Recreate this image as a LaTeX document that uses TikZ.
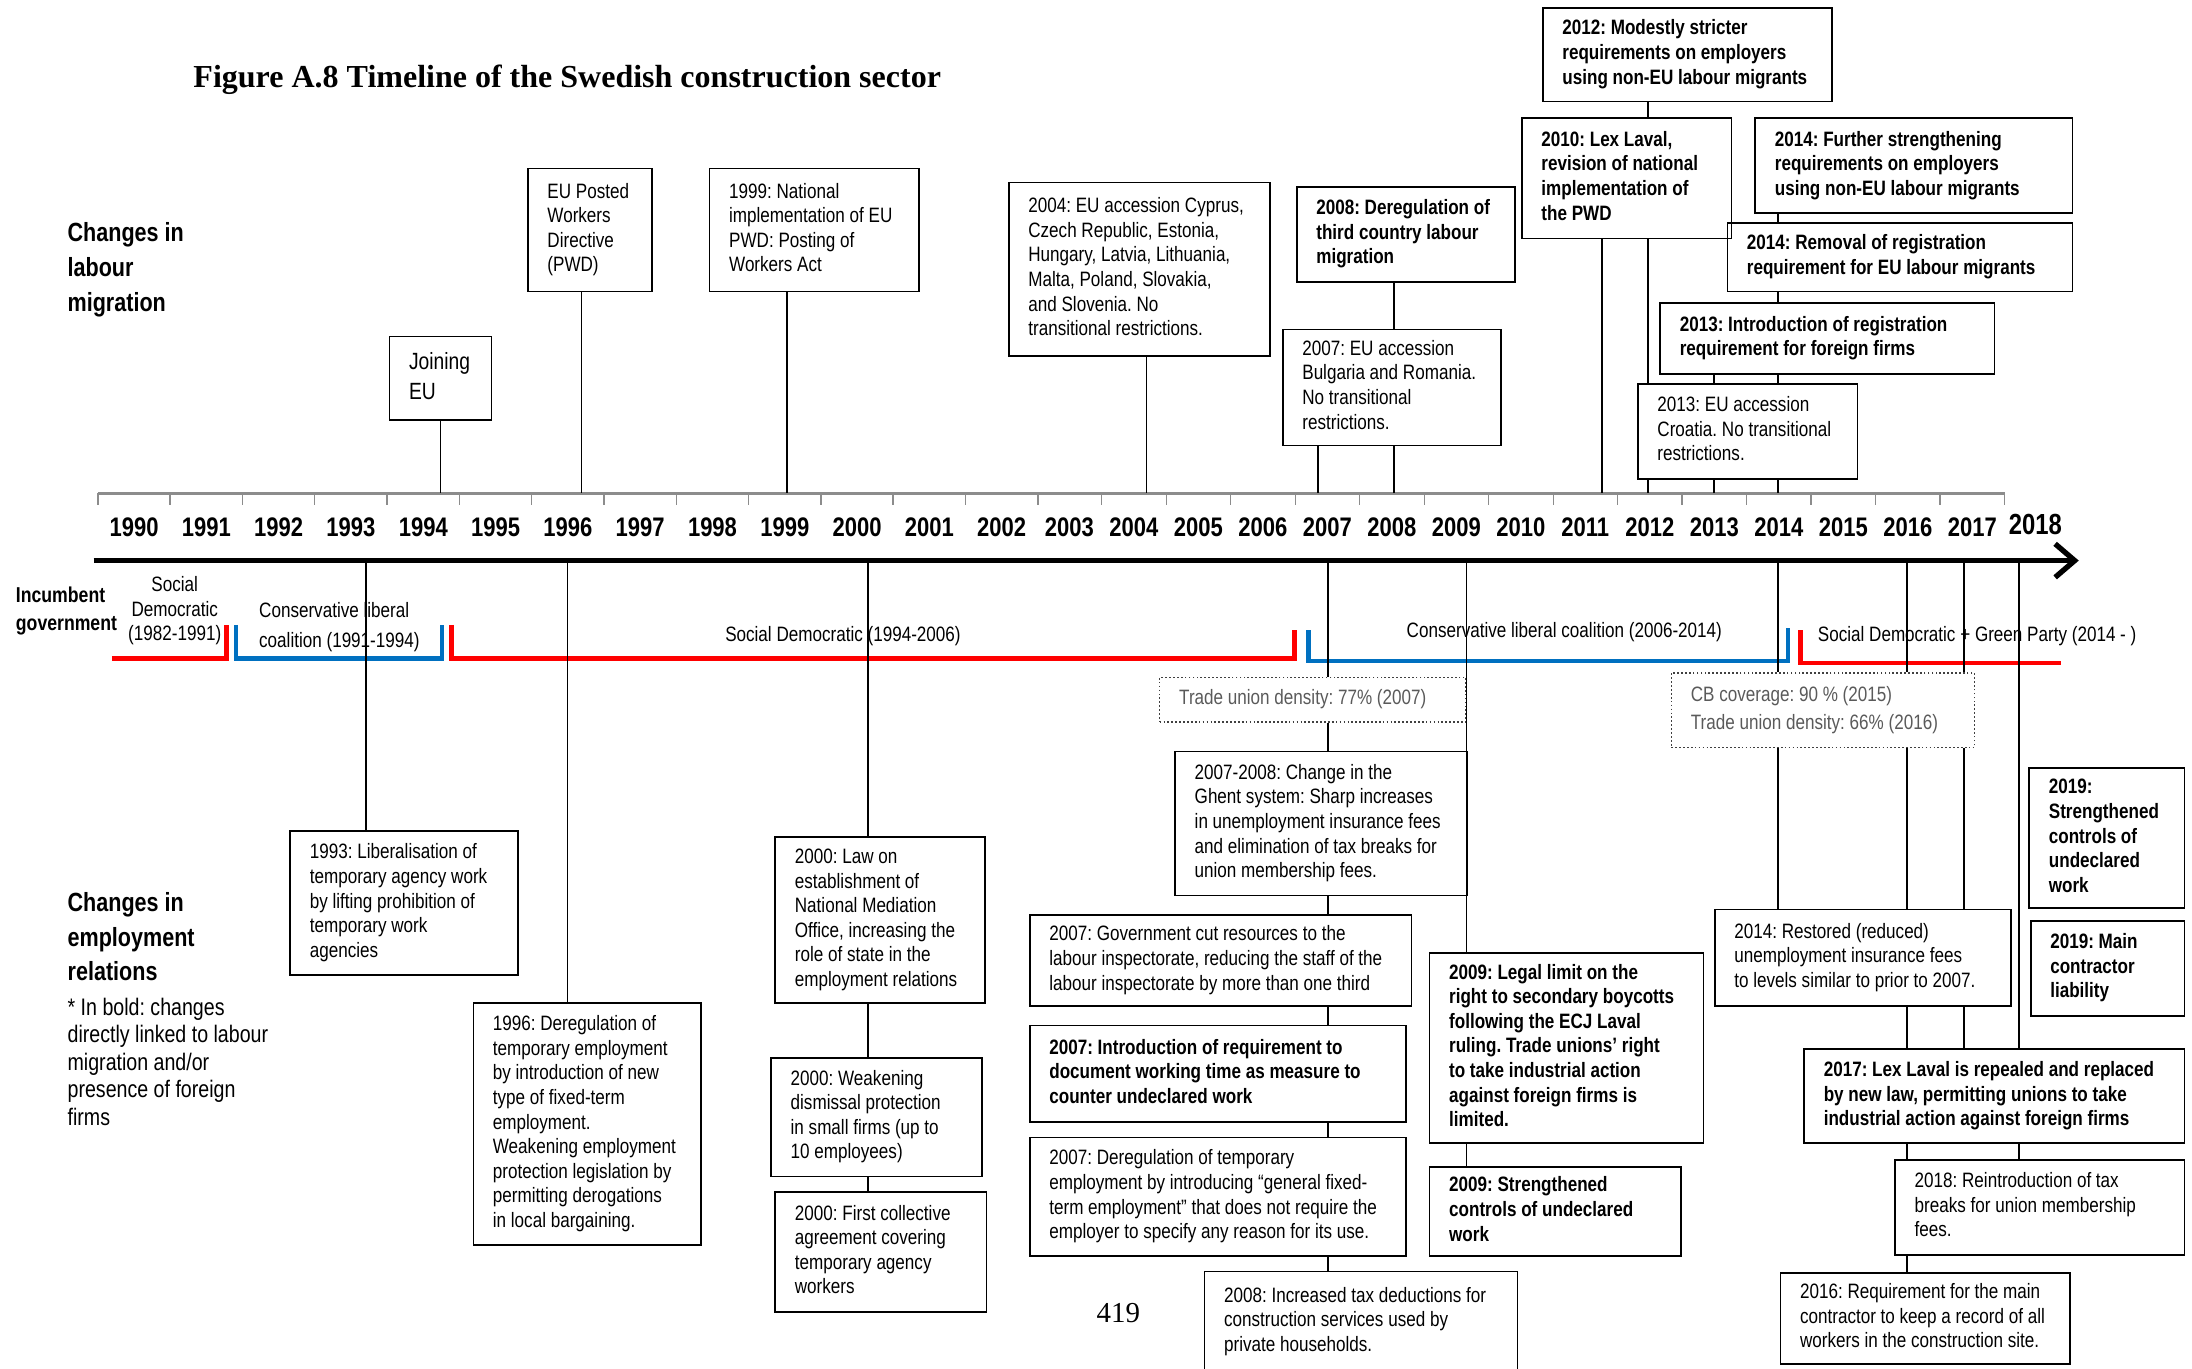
\documentclass[tikz,border=0pt]{standalone}
\usepackage{fontspec}
\setmainfont{Liberation Sans}[FakeStretch=0.82]
\newfontfamily\serifrm{Liberation Serif}
\usetikzlibrary{arrows.meta}
\definecolor{govred}{RGB}{255,0,0}
\definecolor{govblue}{RGB}{0,112,192}
\definecolor{axisgray}{RGB}{140,140,140}
\definecolor{notegray}{RGB}{90,90,90}
\newcommand{\boxfont}{\fontsize{7.45}{8.8}\selectfont}
% text block of a box: fixed width, lines broken by hand
\newcommand{\lines}[2]{\makebox[#1][l]{\begin{tabular}{@{}l@{}}#2\end{tabular}}}
\frenchspacing

\begin{document}
\begin{tikzpicture}[
    x=0.5pt, y=-0.5pt,
    box/.style={rectangle, draw, line width=0.6pt, anchor=north west,
                inner xsep=7pt, inner ysep=0pt, font=\boxfont},
    boldbox/.style={box, font=\boxfont\bfseries},
    databox/.style={box, draw=black!75, line width=0.5pt,
                    dash pattern=on 0.6pt off 0.8pt, text=notegray},
    heading/.style={anchor=west, inner sep=0pt, align=left,
                    font=\fontsize{9.4}{12.5}\selectfont\bfseries},
    yearlabel/.style={inner sep=0pt, font=\fontsize{9.6}{11}\selectfont\bfseries},
    govlabel/.style={inner sep=0pt, font=\boxfont},
    link/.style={line width=0.6pt},
    gov/.style={line width=1.5pt},
    timeline/.style={-{Straight Barb[length=7pt,width=12pt]}, line width=1.9pt},
]
    \useasboundingbox (0,0) rectangle (1568,979);

    % title and side headings
    \node[anchor=west, inner sep=0pt, font=\serifrm\bfseries\fontsize{11.45}{13}\selectfont]
          (title) at (138,57) {Figure A.8 Timeline of the Swedish construction sector};
    \node[heading] (labmig) at (48,193) {Changes in\\labour\\migration};
    \node[heading] (emprel) at (48,670) {Changes in\\employment\\relations};
    \node[anchor=west, inner sep=0pt, align=left, font=\fontsize{8.55}{9.85}\selectfont]
          (boldnote) at (48,759.5) {* In bold: changes\\directly linked to labour\\migration and/or\\presence of foreign\\firms};
    \node[anchor=west, inner sep=0pt, align=left, font=\fontsize{7.7}{10}\selectfont\bfseries]
          (incumbent) at (11,437) {Incumbent\\government};
    \node[inner sep=0pt, font=\serifrm\fontsize{10.35}{12}\selectfont] (page) at (800,939) {419};

    % year scale
    \draw[axisgray, line width=1pt] (70,353) -- (1434,353);
    \foreach \k in {0,...,13}
        \draw[axisgray, line width=0.5pt] ({70+51.72*\k},353) -- ++(0,8);
    \foreach \k in {1,...,15}
        \draw[axisgray, line width=0.5pt] ({742+46.13*\k},353) -- ++(0,8);
    \foreach \yr [count=\i from 0] in {1990,...,2002}
        \node[yearlabel] (y\yr) at ({95.9+51.72*\i},377) {\yr};
    \foreach \yr [count=\i from 0] in {2003,...,2017}
        \node[yearlabel] (y\yr) at ({765+46.13*\i},377) {\yr};
    \node[yearlabel, font=\fontsize{10.4}{12}\selectfont\bfseries] (y2018) at (1456,375) {2018};
    \draw[timeline] (67,401) -- (1487,401);

    % governments
    \draw[gov, govred] (80,471) -| (162,447);
    \draw[gov, govblue] (169,447) |- (316,471) -- (316,447);
    \draw[gov, govred] (323,447) |- (926,471) -- (926,451);
    \draw[gov, govblue] (936,451) |- (1279,473) -- (1279,449);
    \draw[gov, govred] (1288,451) |- (1474,474);
    \node[govlabel, align=center, font=\fontsize{7.45}{8.75}\selectfont] (gov82) at (125,437) {Social\\Democratic\\(1982-1991)};
    \node[govlabel, anchor=west, align=left, font=\fontsize{7.45}{10.5}\selectfont] (gov91) at (185,448.5) {Conservative liberal\\coalition (1991-1994)};
    \node[govlabel] (gov94) at (603,455) {Social Democratic (1994-2006)};
    \node[govlabel] (gov06) at (1119,452) {Conservative liberal coalition (2006-2014)};
    \node[govlabel, anchor=west] (gov14) at (1300,455) {Social Democratic + Green Party (2014 - )};

    % labour migration
    \node[box, minimum height=30pt, font=\fontsize{8.4}{11}\selectfont] (eu) at (278,240) {\lines{22.5pt}{Joining\\EU}};
    \node[box, minimum height=44pt] (pwd) at (377,120) {\lines{30.5pt}{EU Posted\\Workers\\Directive\\(PWD)}};
    \node[box, minimum height=44pt] (nat) at (507,120) {\lines{61pt}{1999: National\\implementation of EU\\PWD: Posting of\\Workers Act}};
    \node[box, minimum height=62pt] (acc04) at (721,130) {\lines{79.5pt}{2004: EU accession Cyprus,\\Czech Republic, Estonia,\\Hungary, Latvia, Lithuania,\\Malta, Poland, Slovakia,\\and Slovenia. No\\transitional restrictions.}};
    \node[boldbox, minimum height=34pt] (dereg08) at (927,133) {\lines{64pt}{2008: Deregulation of\\third country labour\\migration}};
    \node[box, minimum height=41.5pt] (acc07) at (917,235) {\lines{64pt}{2007: EU accession\\Bulgaria and Romania.\\No transitional\\restrictions.}};
    \node[boldbox, minimum height=33.5pt] (mod12) at (1103,5) {\lines{89.5pt}{2012: Modestly stricter\\requirements on employers\\using non-EU labour migrants}};
    \node[boldbox, minimum height=43pt] (laval10) at (1088,84) {\lines{61pt}{2010: Lex Laval,\\revision of national\\implementation of\\the PWD}};
    \node[boldbox, minimum height=34pt] (str14) at (1255,84) {\lines{99.5pt}{2014: Further strengthening\\requirements on employers\\using non-EU labour migrants}};
    \node[boldbox, minimum height=24.5pt] (rem14) at (1235,159) {\lines{109.5pt}{2014: Removal of registration\\requirement for EU labour migrants}};
    \node[boldbox, minimum height=25.5pt] (reg13) at (1187,216) {\lines{105.5pt}{2013: Introduction of registration\\requirement for foreign firms}};
    \node[box, minimum height=34pt] (acc13) at (1171,274) {\lines{64.5pt}{2013: EU accession\\Croatia. No transitional\\restrictions.}};

    % employment relations
    \node[box, minimum height=51.5pt] (lib93) at (207,594) {\lines{67.5pt}{1993: Liberalisation of\\temporary agency work\\by lifting prohibition of\\temporary work\\agencies}};
    \node[box, minimum height=86.5pt] (dereg96) at (338,717) {\lines{67.5pt}{1996: Deregulation of\\temporary employment\\by introduction of new\\type of fixed-term\\employment.\\Weakening employment\\protection legislation by\\permitting derogations\\in local bargaining.}};
    \node[box, minimum height=59.5pt] (law00) at (554,598) {\lines{61pt}{2000: Law on\\establishment of\\National Mediation\\Office, increasing the\\role of state in the\\employment relations}};
    \node[box, minimum height=42.5pt] (weak00) at (551,756) {\lines{61.5pt}{2000: Weakening\\dismissal protection\\in small firms (up to\\10 employees)}};
    \node[box, minimum height=43pt] (coll00) at (554,852) {\lines{61.5pt}{2000: First collective\\agreement covering\\temporary agency\\workers}};
    \node[databox, minimum height=16pt] (tud07) at (829,484) {\lines{95.5pt}{Trade union density: 77\% (2007)}};
    \node[box, minimum height=51.5pt] (ghent) at (840,537) {\lines{90.5pt}{2007-2008: Change in the\\Ghent system: Sharp increases\\in unemployment insurance fees\\and elimination of tax breaks for\\union membership fees.}};
    \node[box, minimum height=32.5pt] (cut07) at (736,654) {\lines{122.5pt}{2007: Government cut resources to the\\labour inspectorate, reducing the staff of the\\labour inspectorate by more than one third}};
    \node[boldbox, minimum height=34.5pt] (doc07) at (736,733) {\lines{120.5pt}{2007: Introduction of requirement to\\document working time as measure to\\counter undeclared work}};
    \node[box, minimum height=42.5pt] (temp07) at (736,813) {\lines{120.5pt}{2007: Deregulation of temporary\\employment by introducing “general fixed-\\term employment” that does not require the\\employer to specify any reason for its use.}};
    \node[box, minimum height=36pt] (tax08) at (861,909) {\lines{98pt}{2008: Increased tax deductions for\\construction services used by\\private households.}};
    \node[boldbox, minimum height=68pt] (legal09) at (1022,681) {\lines{84pt}{2009: Legal limit on the\\right to secondary boycotts\\following the ECJ Laval\\ruling. Trade unions’ right\\to take industrial action\\against foreign firms is\\limited.}};
    \node[boldbox, minimum height=32pt] (ctrl09) at (1022,834) {\lines{76pt}{2009: Strengthened\\controls of undeclared\\work}};
    \node[databox, minimum height=26.5pt, font=\fontsize{7.45}{10}\selectfont] (cb15) at (1195,481) {\lines{94.5pt}{CB coverage: 90 \% (2015)\\Trade union density: 66\% (2016)}};
    \node[box, minimum height=34.5pt] (rest14) at (1226,650) {\lines{92pt}{2014: Restored (reduced)\\unemployment insurance fees\\to levels similar to prior to 2007.}};
    \node[boldbox, minimum height=50pt] (ctrl19) at (1451,549) {\lines{41.5pt}{2019:\\Strengthened\\controls of\\undeclared\\work}};
    \node[boldbox, minimum height=34pt] (main19) at (1452,658) {\lines{41pt}{2019: Main\\contractor\\liability}};
    \node[boldbox, minimum height=33.5pt] (lex17) at (1290,750) {\lines{122pt}{2017: Lex Laval is repealed and replaced\\by new law, permitting unions to take\\industrial action against foreign firms}};
    \node[box, minimum height=34pt] (tax18) at (1355,829) {\lines{89.5pt}{2018: Reintroduction of tax\\breaks for union membership\\fees.}};
    \node[box, minimum height=32.5pt] (rec16) at (1273,910) {\lines{89.5pt}{2016: Requirement for the main\\contractor to keep a record of all\\workers in the construction site.}};

    % ends of the connectors on the scale and on the arrow
    \coordinate (u1994) at (315,353);
    \coordinate (u1996) at (416,353);
    \coordinate (u1999) at (563,353);
    \coordinate (u2004) at (820,353);
    \coordinate (u2007) at (943,353);
    \coordinate (u2008) at (997,353);
    \coordinate (u2011) at (1146,353);
    \coordinate (u2012) at (1179,353);
    \coordinate (u2013) at (1226,353);
    \coordinate (u2014) at (1272,353);
    \coordinate (d1993) at (262,401);
    \coordinate (d1996) at (406,401);
    \coordinate (d2000) at (621,401);
    \coordinate (d2007) at (950,401);
    \coordinate (d2009) at (1049,401);
    \coordinate (d2014) at (1272,401);
    \coordinate (d2016) at (1364,401);
    \coordinate (d2017) at (1405,401);
    \coordinate (d2018) at (1444,401);

    % connectors above the timeline
    \draw[link] (eu.south -| u1994) -- (u1994);
    \draw[link] (pwd.south -| u1996) -- (u1996);
    \draw[link] (nat.south -| u1999) -- (u1999);
    \draw[link] (acc04.south -| u2004) -- (u2004);
    \draw[link] (dereg08.south -| u2008) -- (acc07.north -| u2008);
    \draw[link] (acc07.south -| u2007) -- (u2007);
    \draw[link] (acc07.south -| u2008) -- (u2008);
    \draw[link] (mod12.south -| u2012) -- (laval10.north -| u2012);
    \draw[link] (laval10.south -| u2011) -- (u2011);
    \draw[link] (laval10.south -| u2012) -- (acc13.north -| u2012);
    \draw[link] (str14.south -| u2014) -- (rem14.north -| u2014);
    \draw[link] (rem14.south -| u2014) -- (reg13.north -| u2014);
    \draw[link] (reg13.south -| u2013) -- (acc13.north -| u2013);
    \draw[link] (reg13.south -| u2014) -- (acc13.north -| u2014);
    \draw[link] (acc13.south -| u2012) -- (u2012);
    \draw[link] (acc13.south -| u2013) -- (u2013);
    \draw[link] (acc13.south -| u2014) -- (u2014);

    % connectors below the timeline
    \draw[link] (d1993) -- (lib93.north -| d1993);
    \draw[link] (d1996) -- (dereg96.north -| d1996);
    \draw[link] (d2000) -- (law00.north -| d2000);
    \draw[link] (law00.south -| d2000) -- (weak00.north -| d2000);
    \draw[link] (weak00.south -| d2000) -- (coll00.north -| d2000);
    \draw[link] (d2007) -- (tud07.north -| d2007);
    \draw[link] (tud07.south -| d2007) -- (ghent.north -| d2007);
    \draw[link] (ghent.south -| d2007) -- (cut07.north -| d2007);
    \draw[link] (cut07.south -| d2007) -- (doc07.north -| d2007);
    \draw[link] (doc07.south -| d2007) -- (temp07.north -| d2007);
    \draw[link] (temp07.south -| d2007) -- (tax08.north -| d2007);
    \draw[link] (d2009) -- (legal09.north -| d2009);
    \draw[link] (legal09.south -| d2009) -- (ctrl09.north -| d2009);
    \draw[link] (d2014) -- (cb15.north -| d2014);
    \draw[link] (cb15.south -| d2014) -- (rest14.north -| d2014);
    \draw[link] (d2016) -- (cb15.north -| d2016);
    \draw[link] (cb15.south -| d2016) -- (rest14.north -| d2016);
    \draw[link] (rest14.south -| d2016) -- (lex17.north -| d2016);
    \draw[link] (d2017) -- (cb15.north -| d2017);
    \draw[link] (cb15.south -| d2017) -- (rest14.north -| d2017);
    \draw[link] (rest14.south -| d2017) -- (lex17.north -| d2017);
    \draw[link] (d2018) -- (lex17.north -| d2018);
    \draw[link] (lex17.south -| d2016) -- (tax18.north -| d2016);
    \draw[link] (lex17.south -| d2018) -- (tax18.north -| d2018);
    \draw[link] (tax18.south -| d2016) -- (rec16.north -| d2016);
\end{tikzpicture}
\end{document}
